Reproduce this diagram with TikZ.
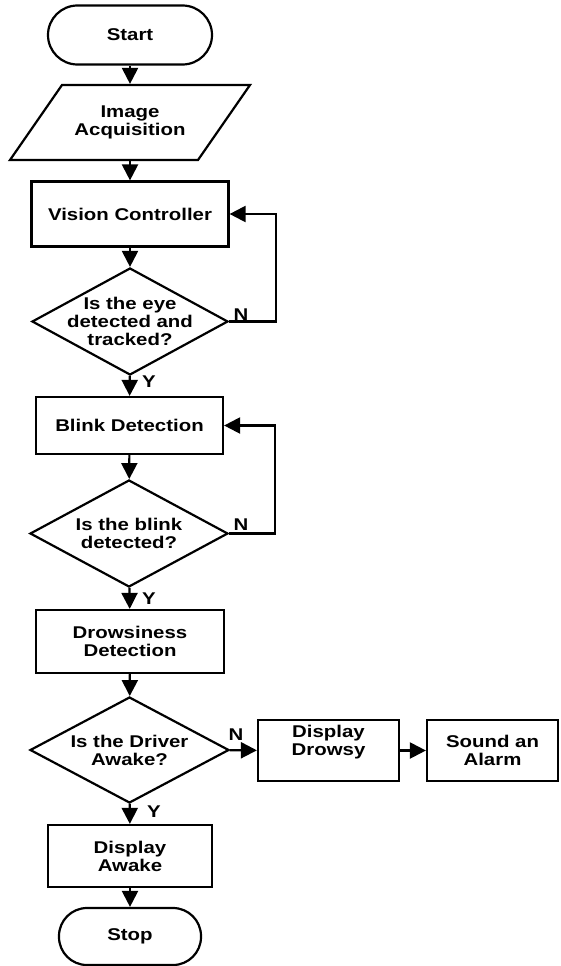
\documentclass[tikz,border=0pt]{standalone}
\usepackage{fontspec}
\setmainfont{Liberation Sans}[FakeStretch=1.2]
\usetikzlibrary{shapes.geometric,arrows.meta}
\begin{document}
\begin{tikzpicture}[x=1pt,y=-1pt, line width=2.2pt,
  every node/.style={font=\fontsize{17}{18}\selectfont\bfseries, align=center},
  box/.style={draw, rectangle, inner sep=0pt},
  term/.style={draw, rectangle, inner sep=0pt, rounded corners=28pt},
  dia/.style={draw, diamond, inner sep=0pt},
  txt/.style={inner sep=0pt},
  lab/.style={inner sep=0pt},
  conn/.style={-{Triangle[length=16pt,width=16pt]}}]
\useasboundingbox (0,0) rectangle (560,966);

% nodes
\node[term, minimum width=164pt, minimum height=59pt, rounded corners=29.5pt] (start) at (130,35) {Start};
\node[txt, minimum width=187pt, minimum height=75pt] (img) at (130,122.5) {Image\\Acquisition};
\draw (62,85) -- (250,85) -- (198,160) -- (10,160) -- cycle;
\node[box, minimum width=197pt, minimum height=65pt] (vis) at (130,214) {Vision Controller};
\node[dia, minimum width=196pt, minimum height=107pt] (d1) at (130,321.5) {};
\node[txt] (d1t) at (d1) {Is the eye\\detected and\\tracked?};
\node[box, minimum width=187pt, minimum height=57pt] (blink) at (129.5,425.5) {Blink Detection};
\node[dia, minimum width=198pt, minimum height=107pt] (d2) at (129,533.5) {};
\node[txt] (d2t) at (d2) {Is the blink\\detected?};
\node[box, minimum width=188pt, minimum height=63pt] (drows) at (130,641.5) {Drowsiness\\Detection};
\node[dia, minimum width=199pt, minimum height=106pt] (d3) at (129.5,750) {};
\node[txt] (d3t) at (d3) {Is the Driver\\Awake?};
\node[box, minimum width=141pt, minimum height=61pt] (ddrow) at (328.5,750.5) {};
\node[txt] (ddrowt) at (328.5,742) {Display\\Drowsy};
\node[box, minimum width=131pt, minimum height=61pt] (alarm) at (492.5,750.5) {Sound an\\Alarm};
\node[box, minimum width=164pt, minimum height=62pt] (awake) at (130,856) {Display\\Awake};
\node[term, minimum width=142pt, minimum height=57pt] (stop) at (130,936.5) {Stop};

% labels
\node[lab] (n1) at (241,315) {N};
\node[lab] (y1) at (149,382) {Y};
\node[lab] (n2) at (241,525) {N};
\node[lab] (y2) at (149,599) {Y};
\node[lab] (n3) at (236,735) {N};
\node[lab] (y3) at (154,812) {Y};

% connectors
\draw[conn] (start) -- (img);
\draw[conn] (img) -- (vis);
\draw[conn] (vis) -- (d1);
\draw[conn] (d1.east) -- ++(47,0) |- (vis.east);
\draw[conn] (d1) -- (blink);
\draw[conn] (blink) -- (d2);
\draw[conn] (d2.east) -- ++(46,0) |- (blink.east);
\draw[conn] (d2) -- (drows);
\draw[conn] (drows) -- (d3);
\draw[conn] (d3) -- (ddrow);
\draw[conn] (ddrow) -- (alarm);
\draw[conn] (d3) -- (awake);
\draw[conn] (awake) -- (stop);
\end{tikzpicture}
\end{document}
